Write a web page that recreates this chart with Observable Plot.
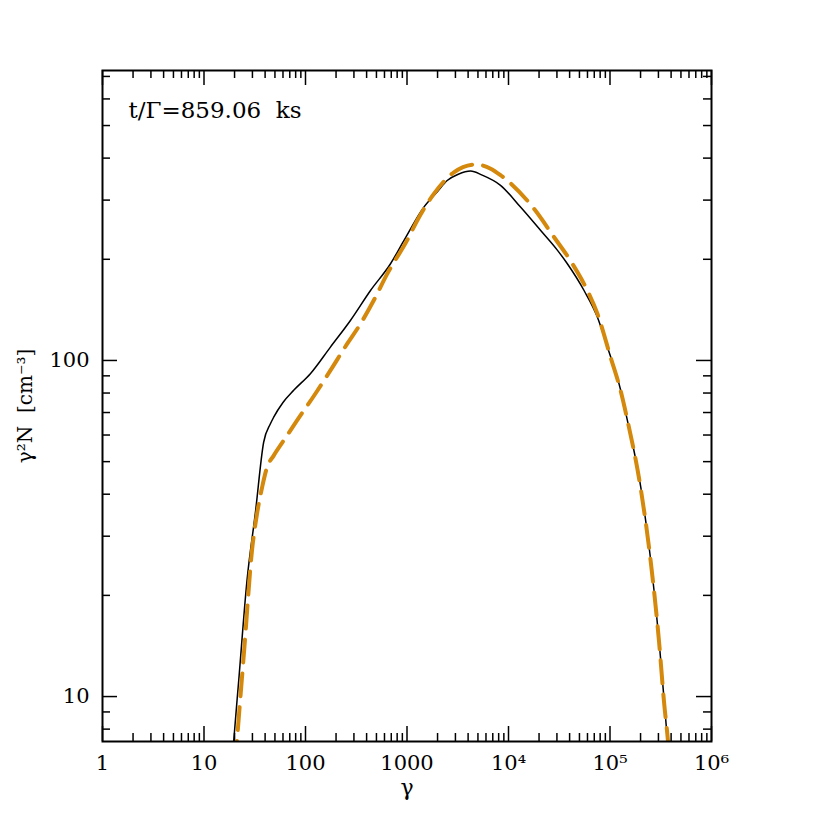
<!DOCTYPE html>
<html>
<head>
<meta charset="utf-8">
<script src="https://cdn.jsdelivr.net/npm/d3@7"></script>
<script src="https://cdn.jsdelivr.net/npm/@observablehq/plot@0.6"></script>
<style>
  html, body { margin: 0; padding: 0; background: #fff; }
  #chart svg { display: block; }
</style>
</head>
<body>
<div id="chart"></div>
<script>
// ---- data ----
const gammaSolid = [19, 19.6, 22, 26.5, 32, 38.7, 45.1, 48.6, 60, 76.5, 111.7, 176, 277, 437, 688, 929, 1466, 2000, 2489, 3200, 4227, 5500, 8340, 13130, 20660, 30270, 38000, 55500, 75200, 94300, 127600, 148300, 201000, 252000, 304000, 341000, 368000, 390000];
const nSolid     = [6.5, 7.35, 11.2, 22.1, 35, 57.1, 64.8, 67.8, 75, 81.5, 91.3, 109.6, 131.5, 161.5, 194, 227, 286, 318, 343, 358, 366, 356, 332, 286, 244, 213, 194, 161.5, 134.5, 109.6, 81.4, 66.3, 42, 25.4, 14.7, 9.8, 7.4, 5.9];

const gammaDash = [20.3, 21.1, 25, 29.7, 33.3, 37.4, 41.8, 48.6, 61, 82.6, 125, 176, 257, 348, 471, 638, 1005, 1262, 1838, 2896, 4740, 6670, 8340, 17800, 28050, 42600, 59800, 75200, 101600, 127600, 148300, 201000, 252000, 304000, 341000, 375000, 395000];
const nDash     = [6.3, 7.35, 14.0, 27.2, 35, 42, 48.1, 52.1, 57.8, 66.3, 79.6, 93.4, 112, 128.5, 151, 181, 228, 261, 313, 363, 383, 372, 356, 283, 233, 194, 161.5, 137.7, 102, 81, 66.5, 41.5, 25.2, 14.6, 9.6, 7.2, 5.8];

const xDomain = [1, 1e6];
const yDomain = [7.35, 729];
const xMajor = [1, 10, 100, 1000, 1e4, 1e5, 1e6];
const xMajorLabels = ["1", "10", "100", "1000", "10\u2074", "10\u2075", "10\u2076"];
const xMinor = [1, 10, 100, 1000, 1e4, 1e5].flatMap(d => [2, 3, 4, 5, 6, 7, 8, 9].map(k => k * d));
const yMajor = [10, 100];
const yMajorLabels = ["10", "100"];
const yMinor = [8, 9, 20, 30, 40, 50, 60, 70, 80, 90, 200, 300, 400, 500, 600, 700];

const title = "t/\u0393=859.06\u00a0\u00a0ks";
const xLabel = "\u03b3";
const yLabel = "\u03b3\u00b2N\u00a0\u00a0[cm\u207b\u00b3]";

const solid = gammaSolid.map((g, i) => ({g, n: nSolid[i]}));
const dashed = gammaDash.map((g, i) => ({g, n: nDash[i]}));

const orange = "#d4880c";
const font = "DejaVu Serif";
const H = 830, mT = 70, mB = 89, mL = 102, mR = 119;
const innerH = H - mT - mB, innerW = 830 - mL - mR;
const majLen = 15, minLen = 8;

const plot = Plot.plot({
  width: 830,
  height: H,
  marginLeft: mL,
  marginRight: mR,
  marginTop: mT,
  marginBottom: mB,
  style: {fontFamily: font, background: "#fff"},
  x: {type: "log", domain: xDomain, axis: null},
  y: {type: "log", domain: yDomain, axis: null},
  marks: [
    // ticks inward, bottom & top
    Plot.tickX(xMajor, {x: d => d, insetTop: innerH - majLen, stroke: "#000", strokeWidth: 1.5}),
    Plot.tickX(xMajor, {x: d => d, insetBottom: innerH - majLen, stroke: "#000", strokeWidth: 1.5}),
    Plot.tickX(xMinor, {x: d => d, insetTop: innerH - minLen, stroke: "#000", strokeWidth: 1.5}),
    Plot.tickX(xMinor, {x: d => d, insetBottom: innerH - minLen, stroke: "#000", strokeWidth: 1.5}),
    // ticks inward, left & right
    Plot.tickY(yMajor, {y: d => d, insetRight: innerW - majLen, stroke: "#000", strokeWidth: 1.5}),
    Plot.tickY(yMajor, {y: d => d, insetLeft: innerW - majLen, stroke: "#000", strokeWidth: 1.5}),
    Plot.tickY(yMinor, {y: d => d, insetRight: innerW - minLen, stroke: "#000", strokeWidth: 1.5}),
    Plot.tickY(yMinor, {y: d => d, insetLeft: innerW - minLen, stroke: "#000", strokeWidth: 1.5}),
    // curves
    Plot.line(solid, {x: "g", y: "n", stroke: "#000", strokeWidth: 1.5, curve: "monotone-x", clip: true}),
    Plot.line(dashed, {x: "g", y: "n", stroke: orange, strokeWidth: 4, strokeDasharray: "23,11", curve: "monotone-x", clip: true}),
    Plot.frame({stroke: "#000", strokeWidth: 2}),
    // tick labels
    Plot.text(xMajor, {x: d => d, text: (d, i) => xMajorLabels[i], frameAnchor: "bottom", dy: 22, textAnchor: "middle", lineAnchor: "middle", fontSize: 21, fill: "#000"}),
    Plot.text(yMajor, {y: d => d, text: (d, i) => yMajorLabels[i], frameAnchor: "left", dx: -13, textAnchor: "end", lineAnchor: "middle", fontSize: 21, fill: "#000"}),
    // axis labels
    Plot.text([xLabel], {text: d => d, frameAnchor: "bottom", dy: 46, textAnchor: "middle", lineAnchor: "middle", fontSize: 22, fill: "#000"}),
    Plot.text([yLabel], {text: d => d, frameAnchor: "left", dx: -77, rotate: -90, textAnchor: "middle", lineAnchor: "middle", fontSize: 20, fill: "#000"}),
    // annotation
    Plot.text([title], {text: d => d, frameAnchor: "top-left", dx: 26, dy: 40, textAnchor: "start", lineAnchor: "middle", fontSize: 23, fill: "#000"})
  ]
});
document.getElementById("chart").appendChild(plot);
</script>
</body>
</html>
